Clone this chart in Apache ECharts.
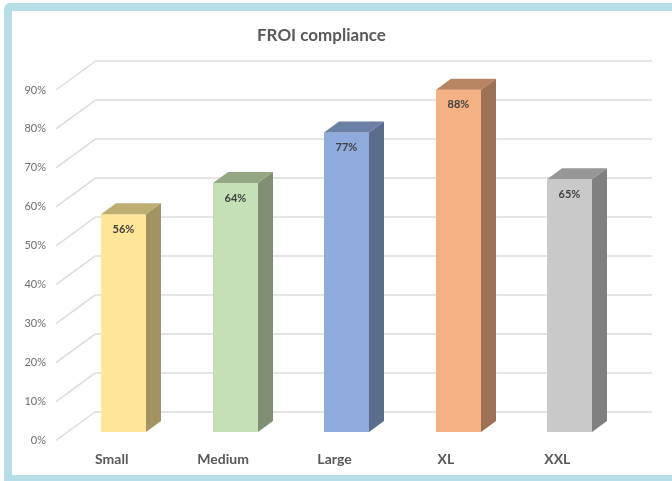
<!DOCTYPE html>
<html>
<head>
<meta charset="utf-8">
<style>html,body{margin:0;padding:0;background:#fff}#c{width:672px;height:481px}</style>
<script src="https://cdn.jsdelivr.net/npm/echarts@6/dist/echarts.min.js"></script>
</head>
<body>
<div id="c"></div>
<script>
const categories = ['Small', 'Medium', 'Large', 'XL', 'XXL'];
const compliance = [56, 64, 77, 88, 65];
const yTicks = [0, 10, 20, 30, 40, 50, 60, 70, 80, 90];
const frontColors = ['#ffe699', '#c5e0b4', '#8faadc', '#f4b183', '#c9c9c9'];
const topColors = ['#bfae72', '#94a886', '#6b80a5', '#b78562', '#979797'];
const sideColors = ['#a39262', '#7f8f74', '#5b6d8d', '#9c7154', '#808080'];

const wallDx = 39, wallDy = 28.5, barDx = 15, barDy = 11;
const font = 'Lato, "Open Sans", sans-serif';
const chart = echarts.init(document.getElementById('c'), null, { renderer: 'canvas' });

chart.setOption({
  animation: false,
  backgroundColor: '#fff',
  title: {
    text: 'FROI compliance', left: 252, top: 22,
    textStyle: { fontFamily: font, fontSize: 17, fontWeight: 'bold', color: '#595959' }
  },
  graphic: [
    { type: 'rect', z: -10, silent: true, shape: { x: 4, y: 3, width: 690, height: 478, r: [6, 0, 0, 0] }, style: { fill: '#b7dde8' } },
    { type: 'rect', z: -9, silent: true, shape: { x: 12, y: 11, width: 680, height: 464 }, style: { fill: '#ffffff' } }
  ],
  grid: [
    { left: 95, width: 557, top: 61, height: 351 },
    { left: 56, width: 557, top: 90, height: 350.5 },
    { left: 68, width: 557.5, top: 82, height: 350 }
  ],
  xAxis: [
    { gridIndex: 0, type: 'category', data: categories, show: false },
    {
      gridIndex: 1, type: 'category', data: categories,
      axisLine: { show: false }, axisTick: { show: false },
      axisLabel: { margin: 12, fontFamily: font, fontSize: 14, fontWeight: 'bold', color: '#595959' }
    },
    { gridIndex: 2, type: 'category', data: categories, show: false }
  ],
  yAxis: [
    {
      gridIndex: 0, type: 'value', min: 0, max: 90, interval: 10,
      axisLine: { show: false }, axisTick: { show: false }, axisLabel: { show: false },
      splitLine: { show: true, lineStyle: { color: '#dcdcdc', width: 1.5 } }
    },
    {
      gridIndex: 1, type: 'value', min: 0, max: 90, interval: 10,
      axisLine: { show: false }, axisTick: { show: false }, splitLine: { show: false },
      axisLabel: { margin: 10, fontFamily: font, fontSize: 11, color: '#6e6e6e', formatter: '{value}%' }
    },
    { gridIndex: 2, type: 'value', min: 0, max: 90, show: false }
  ],
  series: [
    {
      type: 'custom', xAxisIndex: 1, yAxisIndex: 1, z: 1, silent: true, clip: false,
      data: yTicks.map(v => [0, v]),
      renderItem(params, api) {
        const y = api.coord([0, api.value(1)])[1];
        const x = params.coordSys.x;
        return {
          type: 'line',
          shape: { x1: x, y1: y, x2: x + wallDx, y2: y - wallDy },
          style: { stroke: '#dcdcdc', lineWidth: 1.5, fill: null }
        };
      }
    },
    {
      type: 'custom', xAxisIndex: 2, yAxisIndex: 2, z: 3, silent: true, clip: false,
      data: compliance.map((v, i) => [i, v]),
      renderItem(params, api) {
        const i = api.value(0), v = api.value(1);
        const top = api.coord([i, v]);
        const base = api.coord([i, 0]);
        const w = api.size([1, 0])[0] * 0.404;
        const l = Math.round(top[0] - w / 2), r = l + 45, t = top[1], b = base[1];
        return {
          type: 'group',
          children: [
            { type: 'rect', shape: { x: l, y: t, width: r - l, height: b - t }, style: { fill: frontColors[i] } },
            { type: 'polygon', shape: { points: [[l, t], [r, t], [r + barDx, t - barDy], [l + barDx, t - barDy]] }, style: { fill: topColors[i] } },
            { type: 'polygon', shape: { points: [[r, t], [r + barDx, t - barDy], [r + barDx, b - barDy], [r, b]] }, style: { fill: sideColors[i] } },
            { type: 'text', x: (l + r) / 2, y: t + 15, style: { text: v + '%', fill: '#404040', font: 'bold 11px ' + font, align: 'center', verticalAlign: 'middle' } }
          ]
        };
      }
    }
  ]
});
</script>
</body>
</html>
